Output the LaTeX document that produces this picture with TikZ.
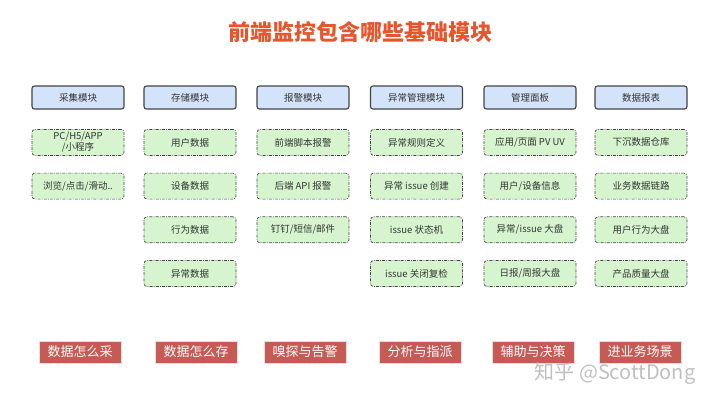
\documentclass[tikz,border=0pt]{standalone}
\usepackage{fontspec}
\setmainfont{Noto Sans CJK SC}
\usepackage{tikz}
\usetikzlibrary{positioning}

\definecolor{titlered}{HTML}{E4572E}
\definecolor{modblue}{HTML}{D3E3FA}
\definecolor{itemgreen}{HTML}{D6F5CF}
\definecolor{tagred}{HTML}{C65B55}
\definecolor{boxline}{HTML}{444444}

\begin{document}
\begin{tikzpicture}[
  x=1pt, y=-1pt,
  font=\fontsize{9.5}{11}\selectfont,
  modbox/.style={rectangle, rounded corners=2.5pt, draw=boxline, line width=1.1pt,
                 fill=modblue, text=black!80, minimum width=92pt, minimum height=23pt,
                 inner sep=1pt, align=center},
  itembox/.style={rectangle, rounded corners=3pt, draw=boxline, line width=0.7pt,
                  dash pattern=on 3pt off 1.2pt on 0.8pt off 1.2pt,
                  fill=itemgreen, text=black!80, minimum width=92pt, minimum height=26pt,
                  inner sep=1pt, align=center},
  tagbox/.style={rectangle, draw=black!12, line width=1pt, fill=tagred, text=white,
                 minimum width=82pt, minimum height=22pt, inner sep=1pt,
                 font=\fontsize{13}{15}\selectfont},
  node distance=17pt
]
  \useasboundingbox (0,0) rectangle (720,405);

  \node[font=\bfseries\fontsize{22}{24}\selectfont, text=titlered] (title) at (360,32.5)
    {前端监控包含哪些基础模块};

  % module headers
  \node[modbox] (caiji) at (78,97.5) {采集模块};
  \node[modbox] (cunchu) at (190,97.5) {存储模块};
  \node[modbox] (baojing) at (303,97.5) {报警模块};
  \node[modbox] (yichang) at (416.5,97.5) {异常管理模块};
  \node[modbox] (mianban) at (530,97.5) {管理面板};
  \node[modbox] (baobiao) at (641,97.5) {数据报表};

  % items of each module
  \node[itembox, below=19.5pt of caiji] (caiji1) {PC/H5/APP\\/小程序};
  \node[itembox, below=of caiji1] (caiji2) {浏览/点击/滑动..};

  \node[itembox, below=19.5pt of cunchu] (cunchu1) {用户数据};
  \node[itembox, below=of cunchu1] (cunchu2) {设备数据};
  \node[itembox, below=of cunchu2] (cunchu3) {行为数据};
  \node[itembox, below=of cunchu3] (cunchu4) {异常数据};

  \node[itembox, below=19.5pt of baojing] (baojing1) {前端脚本报警};
  \node[itembox, below=of baojing1] (baojing2) {后端 API 报警};
  \node[itembox, below=of baojing2] (baojing3) {钉钉/短信/邮件};

  \node[itembox, below=19.5pt of yichang] (yichang1) {异常规则定义};
  \node[itembox, below=of yichang1] (yichang2) {异常 issue 创建};
  \node[itembox, below=of yichang2] (yichang3) {issue 状态机};
  \node[itembox, below=of yichang3] (yichang4) {issue 关闭复检};

  \node[itembox, below=19.5pt of mianban] (mianban1) {应用/页面 PV UV};
  \node[itembox, below=of mianban1] (mianban2) {用户/设备信息};
  \node[itembox, below=of mianban2] (mianban3) {异常/issue 大盘};
  \node[itembox, below=of mianban3] (mianban4) {日报/周报大盘};

  \node[itembox, below=19.5pt of baobiao] (baobiao1) {下沉数据仓库};
  \node[itembox, below=of baobiao1] (baobiao2) {业务数据链路};
  \node[itembox, below=of baobiao2] (baobiao3) {用户行为大盘};
  \node[itembox, below=of baobiao3] (baobiao4) {产品质量大盘};

  % what each module is for
  \node[tagbox] (tcaiji) at (80,352) {数据怎么采};
  \node[tagbox] (tcunchu) at (196,352) {数据怎么存};
  \node[tagbox] (tbaojing) at (305,352) {嗅探与告警};
  \node[tagbox] (tyichang) at (420,352) {分析与指派};
  \node[tagbox] (tmianban) at (533,352) {辅助与决策};
  \node[tagbox] (tbaobiao) at (640,352) {进业务场景};

  \node[text=black!25, font=\fontsize{20}{22}\selectfont] (mark) at (615,374)
    {知乎 @ScottDong};
\end{tikzpicture}
\end{document}
